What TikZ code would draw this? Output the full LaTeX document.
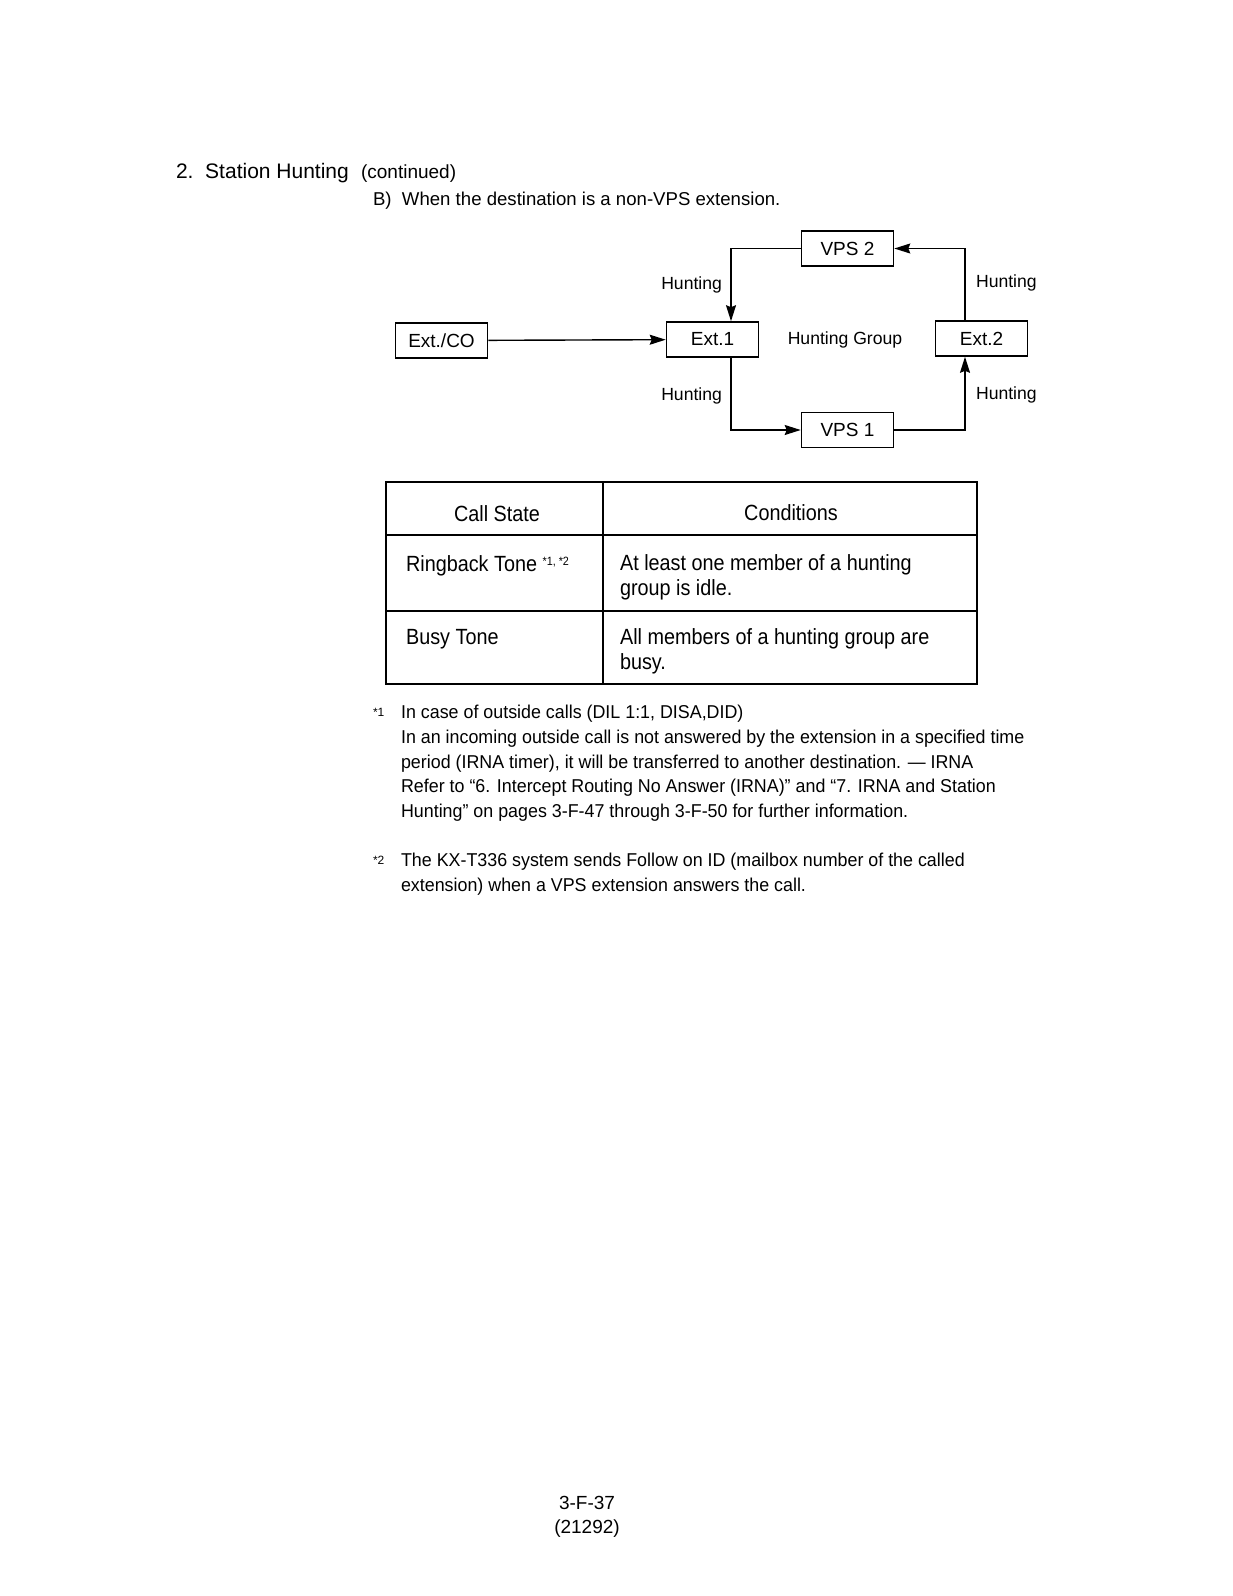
\documentclass[tikz,border=0pt]{standalone}
\usepackage{fontspec}
\setmainfont{Liberation Sans}
\newfontfamily\cellfont[FakeStretch=0.9]{Liberation Sans}
\newfontfamily\notefont[FakeStretch=0.96]{Liberation Sans}
\usetikzlibrary{arrows.meta}

\begin{document}
\begin{tikzpicture}[x=0.5pt,y=-0.5pt,
        box/.style={draw, line width=0.8pt, minimum width=46pt, minimum height=17.5pt, inner sep=0pt, font=\fontsize{9.5}{11}\selectfont},
        hlabel/.style={font=\fontsize{8.8}{10}\selectfont},
        flow/.style={line width=0.7pt, -{Stealth[length=8pt,width=5pt,inset=1pt]}},
        cell/.style={anchor=west, align=left, font=\cellfont\fontsize{11}{12.5}\selectfont},
        note/.style={anchor=north west, align=left, font=\notefont\fontsize{9.3}{12.4}\selectfont}]
        \useasboundingbox (0,0) rectangle (1232,1596);

        % heading
        \node[anchor=west, font=\fontsize{10.5}{13}\selectfont] (title) at (169,173) {2.\ \ Station Hunting};
        \node[anchor=west, font=\fontsize{9.5}{10}\selectfont] (cont) at (354,174) {(continued)};
        \node[anchor=west, font=\fontsize{9.3}{12}\selectfont] (case) at (366,201) {B)\ \ When the destination is a non-VPS extension.};

        % hunting diagram
        \node[box] (extco) at (441.5,340.5) {Ext./CO};
        \node[box] (ext1) at (712.5,339.5) {Ext.1};
        \node[box] (ext2) at (981.5,338.5) {Ext.2};
        \node[box] (vps2) at (847.5,248.5) {VPS 2};
        \node[box] (vps1) at (847.5,430) {VPS 1};
        \node[hlabel] (group) at (845,340) {Hunting Group};

        \draw[flow] (extco) -- (ext1);
        \draw[flow] (vps2.west) -| ([xshift=9.25pt]ext1.north);
        \draw[flow] ([xshift=9.25pt]ext1.south) |- (vps1.west);
        \draw[flow] (vps1.east) -| ([xshift=-8.25pt]ext2.south);
        \draw[flow] ([xshift=-8.25pt]ext2.north) |- (vps2.east);

        \node[hlabel, anchor=east] (h1) at (729,285) {Hunting};
        \node[hlabel, anchor=east] (h2) at (729,396) {Hunting};
        \node[hlabel, anchor=west] (h3) at (969,283) {Hunting};
        \node[hlabel, anchor=west] (h4) at (969,395) {Hunting};

        % table
        \draw[line width=1pt] (386,482) rectangle (977,684);
        \draw[line width=0.8pt] (603,482) -- (603,684);
        \foreach \y in {535, 611}
            \draw[line width=0.8pt] (386,\y) -- (977,\y);

        \node[cell, anchor=center] (callstate) at (497,514) {Call State};
        \node[cell, anchor=center] (conditions) at (791,513) {Conditions};
        \node[cell] (ringback) at (399,566) {Ringback Tone \raisebox{0.55ex}{\fontsize{6}{7}\selectfont *1, *2}};
        \node[cell] (idle) at (613,577) {At least one member of a hunting\\group is idle.};
        \node[cell] (busytone) at (399,639) {Busy Tone};
        \node[cell] (busy) at (613,651) {All members of a hunting group are\\busy.};

        % footnotes
        \node[anchor=north west, font=\fontsize{6}{7}\selectfont] (mark1) at (366,701) {*1};
        \node[note] (note1) at (394,698) {In case of outside calls (DIL 1:1, DISA,DID)\\
            In an incoming outside call is not answered by the extension in a specified time\\
            period (IRNA timer), it will be transferred to another destination. — IRNA\\
            Refer to “6. Intercept Routing No Answer (IRNA)” and “7. IRNA and Station\\
            Hunting” on pages 3-F-47 through 3-F-50 for further information.};
        \node[anchor=north west, font=\fontsize{6}{7}\selectfont] (mark2) at (366,849) {*2};
        \node[note] (note2) at (394,846) {The KX-T336 system sends Follow on ID (mailbox number of the called\\
            extension) when a VPS extension answers the call.};

        % page number
        \node[font=\fontsize{9.5}{12}\selectfont] (page) at (587,1503) {3-F-37};
        \node[font=\fontsize{9.5}{12}\selectfont] (issue) at (587,1529) {(21292)};
    \end{tikzpicture}
\end{document}
